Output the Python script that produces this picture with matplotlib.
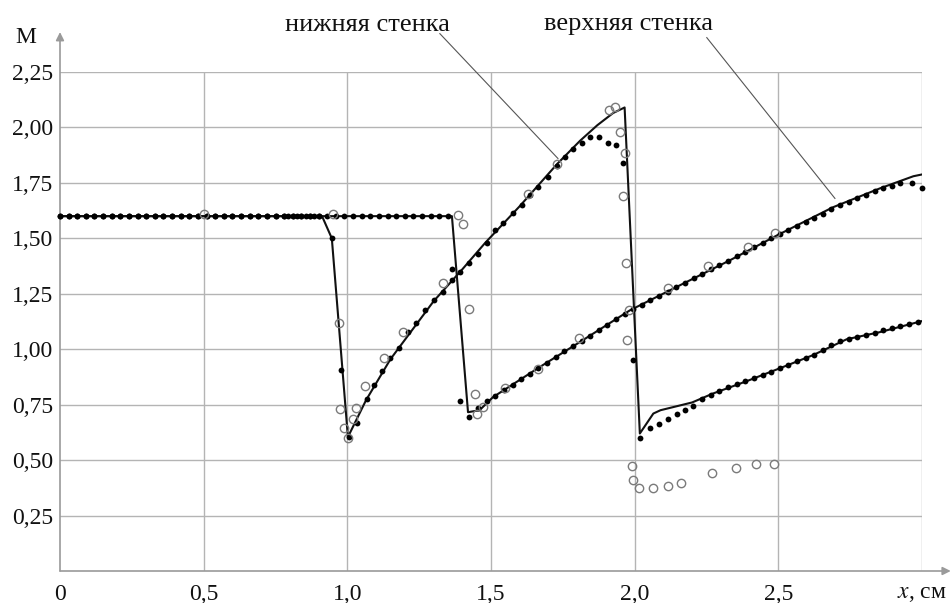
import matplotlib
matplotlib.use("Agg")
import matplotlib.pyplot as plt

plt.rcParams["font.family"] = ["Liberation Serif", "DejaVu Serif"]
plt.rcParams["mathtext.fontset"] = "stix"

# --- данные ---
# сплошные линии (расчёт)
low_line_x = [0.0, 0.912, 0.946, 1.002, 1.065, 1.15, 1.30, 1.40, 1.48, 1.60, 1.73,
              1.81, 1.87, 1.925, 1.965, 2.018, 2.065, 2.09, 2.20, 2.272, 2.39,
              2.505, 2.62, 2.738, 2.853, 3.0]
low_line_y = [1.6, 1.6, 1.5, 0.604, 0.77, 0.955, 1.216, 1.36, 1.48, 1.645, 1.835,
              1.94, 2.01, 2.065, 2.09, 0.62, 0.71, 0.725, 0.76, 0.80, 0.856,
              0.914, 0.973, 1.045, 1.077, 1.127]

up_line_x = [0.0, 1.364, 1.42, 1.46, 1.507, 1.67, 1.81, 1.983, 2.157, 2.33,
             2.495, 2.69, 2.853, 2.97, 3.0]
up_line_y = [1.6, 1.6, 0.716, 0.725, 0.784, 0.92, 1.033, 1.175, 1.288, 1.40,
             1.513, 1.64, 1.725, 1.78, 1.788]

# чёрные точки, нижняя стенка
low_dot_x = [0.00, 0.03, 0.06, 0.09, 0.12, 0.15, 0.18, 0.21, 0.24, 0.27, 0.30,
             0.33, 0.36, 0.39, 0.42, 0.45, 0.48, 0.51, 0.54, 0.57, 0.60, 0.63,
             0.66, 0.69, 0.72, 0.75, 0.78, 0.81, 0.84, 0.87, 0.90,
             0.946, 0.977, 1.005, 1.035, 1.068, 1.093, 1.122, 1.15, 1.18, 1.212,
             1.24, 1.272, 1.30, 1.333, 1.364, 1.392, 1.423, 1.455, 1.486, 1.514,
             1.541, 1.576, 1.607, 1.635, 1.663, 1.698, 1.729, 1.757, 1.785,
             1.815, 1.844, 1.875, 1.907, 1.935, 1.96, 1.993, 2.02, 2.053, 2.084,
             2.115, 2.147, 2.175, 2.203, 2.234, 2.265, 2.295, 2.325, 2.355,
             2.385, 2.415, 2.445, 2.475, 2.505, 2.535, 2.565, 2.595, 2.625,
             2.655, 2.685, 2.715, 2.745, 2.775, 2.805, 2.835, 2.865, 2.895,
             2.925, 2.955, 2.985]
low_dot_y = [1.6, 1.6, 1.6, 1.6, 1.6, 1.6, 1.6, 1.6, 1.6, 1.6, 1.6,
             1.6, 1.6, 1.6, 1.6, 1.6, 1.6, 1.6, 1.6, 1.6, 1.6, 1.6,
             1.6, 1.6, 1.6, 1.6, 1.6, 1.6, 1.6, 1.6, 1.6,
             1.5, 0.905, 0.605, 0.667, 0.775, 0.838, 0.90, 0.959, 1.005, 1.077,
             1.117, 1.176, 1.22, 1.26, 1.31, 1.347, 1.387, 1.43, 1.48, 1.536,
             1.568, 1.612, 1.649, 1.694, 1.73, 1.775, 1.826, 1.865, 1.905,
             1.93, 1.955, 1.955, 1.932, 1.92, 1.84, 0.95, 0.60, 0.644, 0.662,
             0.684, 0.707, 0.725, 0.743, 0.775, 0.795, 0.812, 0.828, 0.842,
             0.855, 0.868, 0.882, 0.898, 0.914, 0.93, 0.945, 0.96, 0.975,
             0.995, 1.018, 1.038, 1.048, 1.057, 1.065, 1.073, 1.085, 1.095,
             1.105, 1.115, 1.124]

# чёрные точки, верхняя стенка
up_dot_x = [0.00, 0.03, 0.06, 0.09, 0.12, 0.15, 0.18, 0.21, 0.24, 0.27, 0.30,
            0.33, 0.36, 0.39, 0.42, 0.45, 0.48, 0.51, 0.54, 0.57, 0.60, 0.63,
            0.66, 0.69, 0.72, 0.75, 0.78, 0.795, 0.81, 0.825, 0.84, 0.855,
            0.87, 0.885, 0.90, 0.93, 0.96, 0.99, 1.02, 1.05, 1.08, 1.11,
            1.14, 1.17, 1.20, 1.23, 1.26, 1.29, 1.32, 1.35,
            1.364, 1.392, 1.423, 1.455, 1.486, 1.515, 1.545, 1.575, 1.605,
            1.635, 1.665, 1.695, 1.725, 1.755, 1.785, 1.815, 1.845, 1.875,
            1.905, 1.935, 1.965, 1.995, 2.025, 2.055, 2.085, 2.115, 2.145,
            2.175, 2.205, 2.235, 2.265, 2.295, 2.325, 2.355, 2.385, 2.415,
            2.445, 2.475, 2.505, 2.535, 2.565, 2.595, 2.625, 2.655, 2.685,
            2.715, 2.745, 2.775, 2.805, 2.835, 2.865, 2.895, 2.925, 2.965, 3.0]
up_dot_y = [1.6, 1.6, 1.6, 1.6, 1.6, 1.6, 1.6, 1.6, 1.6, 1.6, 1.6,
            1.6, 1.6, 1.6, 1.6, 1.6, 1.6, 1.6, 1.6, 1.6, 1.6, 1.6,
            1.6, 1.6, 1.6, 1.6, 1.6, 1.6, 1.6, 1.6, 1.6, 1.6,
            1.6, 1.6, 1.6, 1.6, 1.6, 1.6, 1.6, 1.6, 1.6, 1.6,
            1.6, 1.6, 1.6, 1.6, 1.6, 1.6, 1.6, 1.6,
            1.36, 0.766, 0.694, 0.734, 0.766, 0.79, 0.815, 0.84, 0.865,
            0.89, 0.915, 0.94, 0.965, 0.99, 1.013, 1.036, 1.06, 1.085,
            1.11, 1.135, 1.16, 1.18, 1.20, 1.22, 1.24, 1.26, 1.28,
            1.30, 1.32, 1.34, 1.36, 1.38, 1.40, 1.42, 1.44, 1.46,
            1.48, 1.50, 1.52, 1.537, 1.555, 1.573, 1.59, 1.61, 1.632,
            1.65, 1.665, 1.68, 1.697, 1.712, 1.727, 1.737, 1.748, 1.748, 1.725]

# светлые кружки (эксперимент)
exp_x = [0.5, 0.95, 0.971, 0.974, 0.988, 1.002, 1.019, 1.03, 1.061, 1.127,
         1.194, 1.333, 1.385, 1.403, 1.423, 1.444, 1.452, 1.472, 1.55, 1.663,
         1.806, 1.63, 1.73, 1.91, 1.93, 1.95, 1.966, 1.96, 1.97, 1.974, 1.98,
         1.99, 1.995, 2.015, 2.063, 2.115, 2.16, 2.269, 2.352, 2.422, 2.485,
         2.115, 2.255, 2.394, 2.489]
exp_y = [1.61, 1.61, 1.12, 0.73, 0.644, 0.60, 0.685, 0.734, 0.834, 0.96,
         1.077, 1.297, 1.604, 1.563, 1.18, 0.797, 0.707, 0.739, 0.824, 0.91,
         1.05, 1.698, 1.833, 2.077, 2.09, 1.98, 1.885, 1.69, 1.387, 1.04, 1.175,
         0.473, 0.41, 0.374, 0.374, 0.383, 0.396, 0.441, 0.464, 0.482, 0.482,
         1.275, 1.374, 1.46, 1.526]

x_ticks = [0, 0.5, 1.0, 1.5, 2.0, 2.5, 3.0]
x_labels = ["0", "0,5", "1,0", "1,5", "2,0", "2,5", "$x$, см"]
y_ticks = [0.25, 0.5, 0.75, 1.0, 1.25, 1.5, 1.75, 2.0, 2.25]
y_labels = ["0,25", "0,50", "0,75", "1,00", "1,25", "1,50", "1,75", "2,00", "2,25"]

GRID = "#b4b4b4"
AXIS = "#9a9a9a"

fig = plt.figure(figsize=(9.5, 6.03), dpi=100)
ax = fig.add_axes([60 / 950, 32 / 603, 862 / 950, 499 / 603])
ax.set_xlim(0, 3)
ax.set_ylim(0, 2.25)
for s in ax.spines.values():
    s.set_visible(False)

for xv in x_ticks[1:]:
    ax.axvline(xv, color=GRID, lw=1.0, zorder=0)
for yv in y_ticks:
    ax.axhline(yv, color=GRID, lw=1.0, zorder=0)

# оси со стрелками
ax.annotate("", xy=(0, 2.43), xytext=(0, 0), annotation_clip=False,
            arrowprops=dict(arrowstyle="-|>", color=AXIS, lw=1.2,
                            mutation_scale=12, shrinkA=0, shrinkB=0))
ax.annotate("", xy=(3.1, 0), xytext=(0, 0), annotation_clip=False,
            arrowprops=dict(arrowstyle="-|>", color=AXIS, lw=1.2,
                            mutation_scale=12, shrinkA=0, shrinkB=0))

ax.set_xticks(x_ticks)
ax.set_xticklabels(x_labels)
ax.set_yticks(y_ticks)
ax.set_yticklabels(y_labels)
ax.tick_params(length=0, labelsize=17, colors="#111111")
ax.tick_params(axis="x", pad=9)
ax.tick_params(axis="y", pad=5)

ax.plot(low_line_x, low_line_y, "-", color="#111111", lw=1.5, zorder=3)
ax.plot(up_line_x, up_line_y, "-", color="#111111", lw=1.5, zorder=3)
ax.plot(low_dot_x, low_dot_y, "o", color="#000000", ms=4.2, mew=0, zorder=4,
        clip_on=False)
ax.plot(up_dot_x, up_dot_y, "o", color="#000000", ms=4.2, mew=0, zorder=4,
        clip_on=False)
ax.plot(exp_x, exp_y, "o", mfc="none", mec="#7a7a7a", ms=6, mew=1.0,
        zorder=5, clip_on=False)

# выноски
ax.plot([1.322, 1.733], [2.423, 1.86], color="#555555", lw=0.8, clip_on=False)
ax.plot([2.251, 2.697], [2.405, 1.68], color="#555555", lw=0.8, clip_on=False)

fig.text(367 / 950, 1 - 31 / 603, "нижняя стенка", fontsize=19,
         ha="center", va="baseline", color="#111111")
fig.text(628 / 950, 1 - 30 / 603, "верхняя стенка", fontsize=19,
         ha="center", va="baseline", color="#111111")
fig.text(26 / 950, 1 - 43 / 603, "M", fontsize=17,
         ha="center", va="baseline", color="#111111")

fig.savefig("out.png", dpi=100, facecolor="white")
